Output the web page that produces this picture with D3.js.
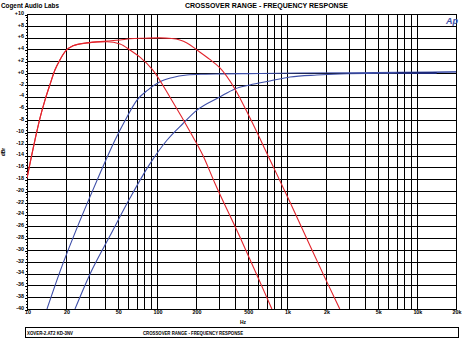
<!DOCTYPE html>
<html>
<head>
<meta charset="utf-8">
<script src="https://cdn.jsdelivr.net/npm/d3@7"></script>
<style>
  html, body { margin: 0; padding: 0; background: #fff; }
  svg { display: block; }
  text { font-family: "Liberation Sans", Arial, sans-serif; font-weight: bold; fill: #000; }
</style>
</head>
<body>
<svg id="chart" width="463" height="342"></svg>
<script>
// ---- measured response traces (frequency in Hz, level in dBr) ----
const redWideFreq = [10, 11.5, 12.6, 13.75, 15, 16.4, 17.9, 19.6, 22.6, 28.9, 41.3, 52, 62, 80, 105, 130, 150, 170, 203, 255, 304, 398, 519, 740, 1057, 1500, 1950, 2550];
const redWideDb   = [-17.8, -11.4, -7.6, -4.6, -2.0, 0.5, 2.2, 3.6, 4.6, 5.1, 5.4, 5.6, 5.8, 5.9, 5.95, 5.85, 5.6, 5.1, 3.9, 2.3, 0.9, -2.7, -7.6, -14.7, -21.9, -29.2, -34.6, -40];

const redNarrowFreq = [10, 11.5, 12.6, 13.75, 15, 16.4, 17.9, 19.6, 22.6, 28.9, 41.3, 52, 62, 74, 93, 126, 189, 225, 278, 435, 620, 766];
const redNarrowDb   = [-17.8, -11.4, -7.6, -4.6, -2.0, 0.5, 2.2, 3.6, 4.6, 5.1, 5.3, 4.9, 3.9, 2.7, 0.5, -4.1, -10.8, -13.9, -18.6, -27.8, -35.4, -40];

const blueLowFreq = [14.25, 17.9, 23.4, 30.5, 36.5, 47.5, 56.7, 70.2, 84.9, 105.5, 130, 170, 230, 304, 500, 1250, 7400, 20000];
const blueLowDb   = [-40, -33.7, -27.1, -21.0, -17.0, -11.4, -8.1, -4.6, -2.9, -1.5, -0.8, -0.34, -0.2, -0.15, -0.1, 0, 0.1, 0.2];

const blueHighFreq = [23.4, 30.5, 43.5, 62, 88.2, 119.3, 158, 203, 304, 398, 519, 740, 1057, 1700, 2550, 7400, 20000];
const blueHighDb   = [-40, -34.1, -27.6, -21.2, -15.4, -11.4, -8.6, -6.3, -4.07, -2.7, -2.03, -1.36, -0.68, -0.34, -0.17, 0, 0.17];

const markerFreq = [7000, 14200];
const markerDb   = [0.0, 0.0];

// ---- axis ticks ----
const yTicks = d3.range(-40, 10.001, 2);
const yTickLabels = yTicks.map(v => (v >= 0 ? "+" : "") + v);
const xTickValues = [10, 20, 50, 100, 200, 500, 1000, 2000, 5000, 10000, 20000];
const xTickLabels = ["10", "20", "50", "100", "200", "500", "1k", "2k", "5k", "10k", "20k"];

// ---- text ----
const companyName = "Cogent Audio Labs";
const chartTitle = "CROSSOVER RANGE  -  FREQUENCY RESPONSE";
const footerFile = "XOVER-2.AT2  KD-3NV";
const footerTitle = "CROSSOVER RANGE  -  FREQUENCY RESPONSE";

(function draw() {
  const svg = d3.select("#chart");
  svg.append("rect").attr("width", 463).attr("height", 342).attr("fill", "#fff");

  const pL = 27, pR = 456, pT = 14, pB = 309;
  const x = d3.scaleLog().domain([10, 20000]).range([pL, pR]);
  const y = d3.scaleLinear().domain([-40, 10]).range([pB, pT]);

  // header
  svg.append("text").attr("x", 1).attr("y", 7.5).attr("font-size", 6.8)
    .attr("textLength", 58).attr("lengthAdjust", "spacingAndGlyphs").text(companyName);
  svg.append("text").attr("x", 185).attr("y", 7.5).attr("font-size", 6.6)
    .attr("textLength", 163).attr("lengthAdjust", "spacingAndGlyphs").text(chartTitle);

  // grid: vertical lines at every 1..9 multiple of each decade
  const gridFreqs = [];
  for (let d = 10; d <= 10000; d *= 10) for (let m = 1; m <= 9; m++) if (d * m <= 20000) gridFreqs.push(d * m);
  gridFreqs.push(20000);

  const grid = svg.append("g").attr("stroke", "#000").attr("stroke-width", 1).attr("shape-rendering", "crispEdges");
  grid.selectAll("line.v").data(gridFreqs).join("line").attr("class", "v")
    .attr("x1", d => Math.round(x(d)) + 0.5).attr("x2", d => Math.round(x(d)) + 0.5)
    .attr("y1", pT).attr("y2", pB);
  grid.selectAll("line.h").data(yTicks).join("line").attr("class", "h")
    .attr("x1", pL).attr("x2", pR)
    .attr("y1", d => Math.round(y(d)) + 0.5).attr("y2", d => Math.round(y(d)) + 0.5);
  grid.append("rect").attr("x", pL + 0.5).attr("y", pT + 0.5)
    .attr("width", pR - pL).attr("height", pB - pT).attr("fill", "none");

  // y axis: major and minor ticks
  const yAxisMajor = d3.axisLeft(y).tickValues(yTicks).tickSize(3).tickFormat("");
  const yAxisMinor = d3.axisLeft(y).tickValues(d3.range(-40, 10.001, 0.5)).tickSize(1.5).tickFormat("");
  [yAxisMinor, yAxisMajor].forEach(ax => {
    svg.append("g").attr("transform", `translate(${pL + 0.5},0.5)`).call(ax)
      .call(g => g.select(".domain").remove())
      .selectAll("line").attr("stroke", "#000").attr("shape-rendering", "crispEdges");
  });

  svg.append("g").selectAll("text").data(yTicks).join("text")
    .attr("x", 24).attr("y", d => y(d) + 0.8)
    .attr("text-anchor", "end").attr("font-size", 5.4)
    .text((d, i) => yTickLabels[i]);

  svg.append("text").attr("transform", "translate(5,152) rotate(-90)")
    .attr("text-anchor", "middle").attr("font-size", 5).text("dBr");

  // x axis labels
  svg.append("g").selectAll("text").data(xTickValues).join("text")
    .attr("x", d => x(d) + 1).attr("y", 314)
    .attr("text-anchor", "middle").attr("font-size", 5.4)
    .text((d, i) => xTickLabels[i]);
  svg.append("text").attr("x", 243).attr("y", 324).attr("text-anchor", "middle")
    .attr("font-size", 5).text("Hz");

  // traces
  svg.append("clipPath").attr("id", "plotClip").append("rect")
    .attr("x", pL).attr("y", pT).attr("width", pR - pL).attr("height", pB - pT);
  const line = d3.line().x(d => x(d[0])).y(d => y(d[1])).curve(d3.curveMonotoneX);
  const traces = svg.append("g").attr("clip-path", "url(#plotClip)").attr("fill", "none");
  const series = [
    { f: blueLowFreq, v: blueLowDb, color: "#3d4ea8", w: 1.1 },
    { f: blueHighFreq, v: blueHighDb, color: "#3d4ea8", w: 1.1 },
    { f: redWideFreq, v: redWideDb, color: "#e2242c", w: 1.1 },
    { f: redNarrowFreq, v: redNarrowDb, color: "#e2242c", w: 1.1 },
    { f: markerFreq, v: markerDb, color: "#1e2a7a", w: 1.8 }
  ];
  series.forEach(s => {
    traces.append("path").datum(s.f.map((f, i) => [f, s.v[i]]))
      .attr("d", line).attr("stroke", s.color).attr("stroke-width", s.w);
  });

  // logo
  svg.append("text").attr("x", 458).attr("y", 24).attr("font-size", 9)
    .attr("text-anchor", "end").attr("font-style", "italic")
    .style("fill", "#3d4ea8").text("Ap");

  // footer
  svg.append("rect").attr("x", 25.5).attr("y", 327.5).attr("width", 433).attr("height", 10)
    .attr("fill", "none").attr("stroke", "#000").attr("shape-rendering", "crispEdges");
  svg.append("text").attr("x", 27).attr("y", 334.5).attr("font-size", 4.8)
    .attr("textLength", 46).attr("lengthAdjust", "spacingAndGlyphs").text(footerFile);
  svg.append("text").attr("x", 143).attr("y", 334.5).attr("font-size", 4.8)
    .attr("textLength", 100).attr("lengthAdjust", "spacingAndGlyphs").text(footerTitle);
})();
</script>
</body>
</html>
